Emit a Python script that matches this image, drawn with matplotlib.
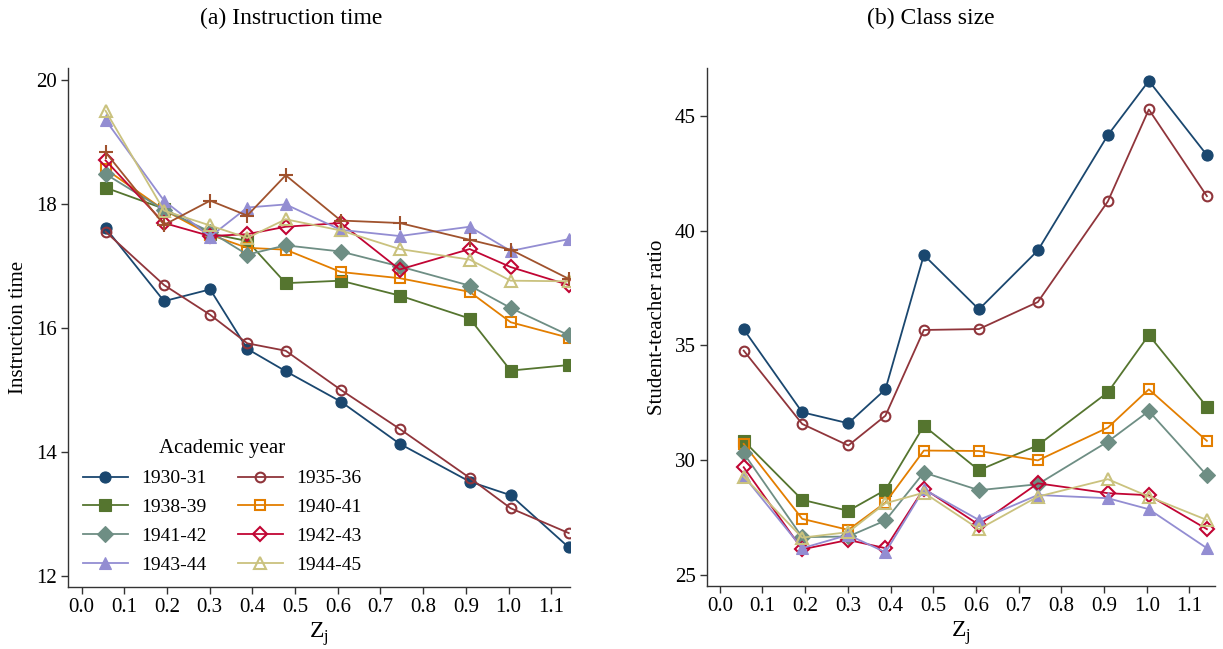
import matplotlib
matplotlib.use("Agg")
import matplotlib.pyplot as plt

plt.rcParams["font.family"] = ["Liberation Serif", "DejaVu Serif"]
plt.rcParams["mathtext.fontset"] = "custom"
plt.rcParams["mathtext.rm"] = "Liberation Serif"

# ---------------------------------------------------------------- data
Z = [0.056, 0.193, 0.301, 0.388, 0.478, 0.607, 0.745, 0.909, 1.005, 1.141]

YEARS = ["1930-31", "1935-36", "1938-39", "1940-41",
         "1941-42", "1942-43", "1943-44", "1944-45"]

# (a) instruction time, one list per academic year
time_1930 = [17.61, 16.43, 16.62, 15.66, 15.30, 14.81, 14.13, 13.52, 13.30, 12.46]
time_1935 = [17.55, 16.69, 16.21, 15.75, 15.63, 15.00, 14.37, 13.58, 13.09, 12.69]
time_1938 = [18.26, 17.92, 17.52, 17.40, 16.72, 16.76, 16.52, 16.15, 15.31, 15.40]
time_1940 = [18.56, 17.90, 17.50, 17.29, 17.26, 16.90, 16.80, 16.58, 16.09, 15.84]
time_1941 = [18.48, 17.90, 17.55, 17.18, 17.33, 17.23, 16.99, 16.68, 16.32, 15.88]
time_1942 = [18.70, 17.69, 17.48, 17.51, 17.63, 17.69, 16.94, 17.27, 16.98, 16.69]
time_1943 = [19.35, 18.05, 17.47, 17.94, 17.99, 17.58, 17.48, 17.63, 17.24, 17.43]
time_1944 = [19.50, 17.89, 17.65, 17.45, 17.75, 17.57, 17.27, 17.10, 16.76, 16.75]
time_extra = [18.83, 17.66, 18.05, 17.81, 18.46, 17.73, 17.69, 17.42, 17.26, 16.79]  # not in legend

# (b) class size (student-teacher ratio)
size_1930 = [35.70, 32.08, 31.60, 33.08, 38.94, 36.57, 39.14, 44.17, 46.54, 43.30]
size_1935 = [34.77, 31.57, 30.63, 31.93, 35.67, 35.71, 36.89, 41.28, 45.29, 41.51]
size_1938 = [30.83, 28.26, 27.78, 28.69, 31.49, 29.55, 30.64, 32.95, 35.45, 32.32]
size_1940 = [30.70, 27.43, 26.95, 28.14, 30.41, 30.39, 29.98, 31.41, 33.08, 30.83]
size_1941 = [30.29, 26.63, 26.66, 27.36, 29.45, 28.68, 28.94, 30.80, 32.13, 29.33]
size_1942 = [29.68, 26.10, 26.51, 26.15, 28.75, 27.17, 28.98, 28.55, 28.46, 26.98]
size_1943 = [29.30, 26.15, 26.73, 25.97, 28.72, 27.38, 28.47, 28.33, 27.85, 26.15]
size_1944 = [29.27, 26.61, 26.85, 28.11, 28.57, 26.98, 28.40, 29.16, 28.40, 27.38]

TIME = [time_1930, time_1935, time_1938, time_1940, time_1941, time_1942, time_1943, time_1944]
SIZE = [size_1930, size_1935, size_1938, size_1940, size_1941, size_1942, size_1943, size_1944]

# ---------------------------------------------------------------- style (stata s2color)
COLORS = ["#1a476f", "#90353b", "#55752f", "#e37e00",
          "#6e8e84", "#c10534", "#938dd2", "#cac27e"]
MARKERS = ["o", "o", "s", "s", "D", "D", "^", "^"]
FILLED = [True, False, True, False, True, False, True, False]
MSIZE = [8, 7, 8, 7.5, 8, 7.5, 9, 8.5]
EXTRA_COLOR = "#a0522d"
AXC = "#333333"


def style_axes(ax):
    for s in ("top", "right"):
        ax.spines[s].set_visible(False)
    for s in ("left", "bottom"):
        ax.spines[s].set_color(AXC)
        ax.spines[s].set_linewidth(1.0)
    ax.tick_params(direction="out", length=5, width=1.0, color=AXC,
                   labelsize=15, pad=3)
    ax.set_xticks([i / 10 for i in range(12)])
    ax.set_xticklabels([f"{i / 10:.1f}" for i in range(12)])
    ax.set_xlabel(r"Z$_\mathregular{j}$", fontsize=17, labelpad=2)


def draw(ax, series):
    handles = []
    for y, c, m, f, ms in zip(series, COLORS, MARKERS, FILLED, MSIZE):
        h, = ax.plot(Z, y, color=c, lw=1.3, marker=m, ms=ms,
                     mfc=c if f else "none", mec=c, mew=1.5 if not f else 0.8)
        handles.append(h)
    return handles


fig = plt.figure(figsize=(12.23, 6.49), dpi=100)
axl = fig.add_axes([68 / 1223, 1 - 587 / 649, 502 / 1223, 519 / 649])
axr = fig.add_axes([707 / 1223, 1 - 586 / 649, 508 / 1223, 518 / 649])

# ---- (a) instruction time
hl = draw(axl, TIME)
axl.plot(Z, time_extra, color=EXTRA_COLOR, lw=1.3, marker="+", ms=10, mew=1.5)
style_axes(axl)
axl.set_xlim(-0.032, 1.144)
axl.set_ylim(11.82, 20.19)
axl.set_yticks([12, 14, 16, 18, 20])
axl.set_ylabel("Instruction time", fontsize=15, labelpad=6)

order = [0, 2, 4, 6, 1, 3, 5, 7]
leg = axl.legend([hl[i] for i in order], [YEARS[i] for i in order],
                 ncol=2, loc="lower left", bbox_to_anchor=(0.03, 0.025),
                 frameon=False, fontsize=14, title="Academic year",
                 title_fontsize=15, handlelength=2.3, handletextpad=0.7,
                 columnspacing=1.6, labelspacing=0.58, borderpad=0,
                 borderaxespad=0)

# ---- (b) class size
draw(axr, SIZE)
style_axes(axr)
axr.set_xlim(-0.03, 1.16)
axr.set_ylim(24.5, 47.1)
axr.set_yticks([25, 30, 35, 40, 45])
axr.set_ylabel("Student-teacher ratio", fontsize=15, labelpad=6)

fig.text(291 / 1223, 1 - 18 / 649, "(a) Instruction time", ha="center",
         va="center", fontsize=17)
fig.text(931 / 1223, 1 - 18 / 649, "(b) Class size", ha="center",
         va="center", fontsize=17)

fig.savefig("out.png", dpi=100)
